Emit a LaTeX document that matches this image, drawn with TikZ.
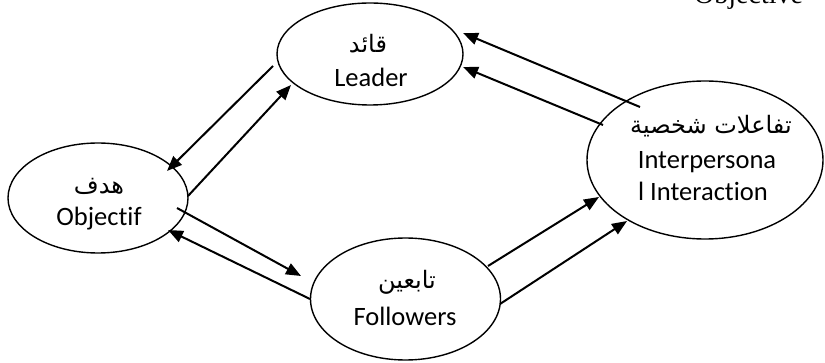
\documentclass[tikz,border=0pt]{standalone}
\usepackage{fontspec}
\setmainfont[Ligatures=NoCommon]{Carlito}
\newfontfamily\arabicfont[Script=Arabic]{DejaVu Sans}
\newfontfamily\serifobj{Liberation Serif}
\TeXXeTstate=1
\usetikzlibrary{arrows.meta,shapes.geometric}

\begin{document}
\begin{tikzpicture}[x=1pt,y=-1pt,
  oval/.style={draw, ellipse, line width=1.4pt, inner sep=0pt, outer sep=0pt},
  en/.style={font=\fontsize{26.5}{30}\selectfont, inner sep=0pt, anchor=base},
  ar/.style={font=\arabicfont\fontsize{24}{26}\selectfont, inner sep=0pt},
  conn/.style={line width=2pt, -{Triangle[length=15pt,width=12pt]}}]
\useasboundingbox (0,0) rectangle (825,363);

% ellipses
\node[oval, minimum width=186pt, minimum height=102pt] (leader) at (370,54) {};
\node[oval, minimum width=180pt, minimum height=110pt] (objectif) at (98,198) {};
\node[oval, minimum width=190pt, minimum height=122pt] (followers) at (405.5,299) {};
\node[oval, minimum width=236pt, minimum height=158pt] (inter) at (705,160) {};

% texts
\node[ar] (leaderAr) at (368,44) {\beginR قائد\endR};
\node[en] (leaderEn) at (371,87) {Leader};
\node[ar] (objAr) at (99,186) {\beginR هدف\endR};
\node[en] (objEn) at (99,226) {Objectif};
\node[ar] (folAr) at (407,282) {\beginR تابعين\endR};
\node[en] (folEn) at (405,326) {Followers};
\node[ar] (intAr) at (711,126) {\beginR تفاعلات شخصية\endR};
\node[en] (intEnA) at (707,169) {Interpersona};
\node[en] (intEnB) at (703,201) {l Interaction};

\node[font=\serifobj\fontsize{28}{30}\selectfont, anchor=base west, inner sep=0pt] (objective) at (694,4) {Objective};

% connector end points
\coordinate (a1s) at (273,66);  \coordinate (a1e) at (167,171);
\coordinate (a2s) at (188,196); \coordinate (a2e) at (291,85);
\coordinate (a3s) at (177,208); \coordinate (a3e) at (301,276);
\coordinate (a4s) at (310,299); \coordinate (a4e) at (168,230);
\coordinate (a5s) at (640,107); \coordinate (a5e) at (463,33);
\coordinate (a6s) at (603,125); \coordinate (a6e) at (463,67);
\coordinate (a7s) at (488,266); \coordinate (a7e) at (599,197);
\coordinate (a8s) at (500,304); \coordinate (a8e) at (627,221);

\draw[conn] (a1s) -- (a1e);
\draw[conn] (a2s) -- (a2e);
\draw[conn] (a3s) -- (a3e);
\draw[conn] (a4s) -- (a4e);
\draw[conn] (a5s) -- (a5e);
\draw[conn] (a6s) -- (a6e);
\draw[conn] (a7s) -- (a7e);
\draw[conn] (a8s) -- (a8e);
\end{tikzpicture}
\end{document}
